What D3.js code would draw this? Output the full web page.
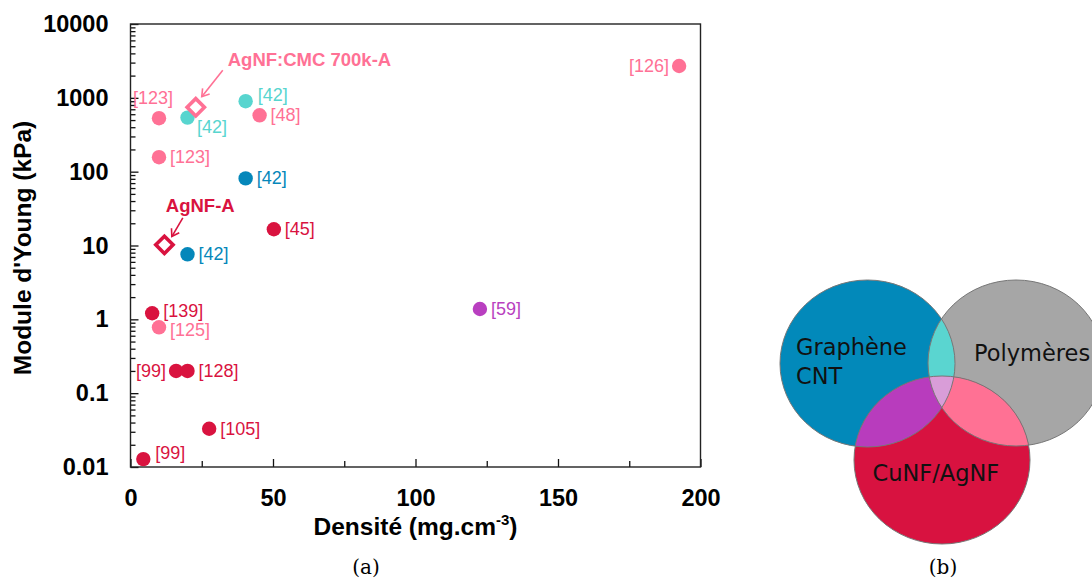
<!DOCTYPE html>
<html><head><meta charset="utf-8">
<script src="https://cdn.jsdelivr.net/npm/d3@7"></script>
<style>html,body{margin:0;padding:0;background:#fff;}svg{display:block;}</style>
</head><body>
<svg id="chart" width="1092" height="579"></svg>
<script>
// ---------- data ----------
const refs     = ["[126]","[123]","[42]","[42]","[48]","[123]","[42]","[45]","[42]","[59]","[139]","[125]","[99]","[128]","[105]","[99]"];
const density  = [192.5, 10, 20, 40.4, 45.3, 10, 40.4, 50.3, 20, 122.6, 7.6, 10, 16, 20, 27.6, 4.5];
const modulus  = [2700, 530, 540, 900, 580, 157, 81, 16.6, 7.6, 1.38, 1.21, 0.78, 0.2, 0.2, 0.033, 0.0128];
const family   = ["pm","pm","gp","gp","pm","pm","g","m","g","gm","m","pm","m","m","m","m"];

const thisWorkNames   = ["AgNF:CMC 700k-A", "AgNF-A"];
const thisWorkDensity = [22.9, 11.9];
const thisWorkModulus = [745, 10.2];
const thisWorkFamily  = ["pm", "m"];

const xTicks = [0, 50, 100, 150, 200];
const xTickLabels = ["0", "50", "100", "150", "200"];
const xMinorTicks = [25, 75, 125, 175];
const yTicks = [0.01, 0.1, 1, 10, 100, 1000, 10000];
const yTickLabels = ["0.01", "0.1", "1", "10", "100", "1000", "10000"];

const vennSets = ["Graphène\nCNT", "Polymères", "CuNF/AgNF"];

// ---------- layout / style ----------
const labelPlace = ["l","ul","dr","ur","r","r","r","r","r","r","ru","rd","l","r","r","ur"];
const colors = {pm:"#FF7195", gp:"#58D5CF", g:"#0587BA", m:"#D9133F", gm:"#B93FC0"};
const FONT = "'Liberation Sans', Arial, sans-serif";

const svg = d3.select("#chart");
const x = d3.scaleLinear().domain([0, 200]).range([130.5, 700.5]);
const y = d3.scaleLog().domain([0.01, 10000]).range([467, 24]);

// minor ticks
const yMinor = y.ticks().filter(v => !yTicks.some(t => Math.abs(t - v) / t < 1e-9));

const axisG = svg.append("g");
// bottom axis
const bx = d3.axisBottom(x).tickValues(xTicks).tickFormat((d,i)=>xTickLabels[i])
  .tickSizeInner(-8).tickSizeOuter(0).tickPadding(22);
axisG.append("g").attr("transform","translate(0,467)").call(bx);
const bxm = d3.axisBottom(x).tickValues(xMinorTicks).tickFormat("").tickSizeInner(-6).tickSizeOuter(0);
axisG.append("g").attr("transform","translate(0,467)").call(bxm);
// left axis
const ly = d3.axisLeft(y).tickValues(yTicks).tickFormat((d,i)=>yTickLabels[i])
  .tickSizeInner(-8).tickSizeOuter(0).tickPadding(22);
axisG.append("g").attr("transform","translate(130.5,0)").call(ly);
const lym = d3.axisLeft(y).tickValues(yMinor).tickFormat("").tickSizeInner(-5).tickSizeOuter(0);
axisG.append("g").attr("transform","translate(130.5,0)").call(lym);

axisG.selectAll(".domain").remove();
axisG.selectAll(".tick line").attr("stroke","#111").attr("stroke-width",1.3);
axisG.selectAll(".tick text").attr("font-family",FONT).attr("font-weight","bold")
  .attr("font-size",23.5).attr("fill","#000");

// frame
svg.append("rect").attr("x",130.5).attr("y",24).attr("width",570).attr("height",443)
  .attr("fill","none").attr("stroke","#222").attr("stroke-width",1.4);

// axis titles
svg.append("text").attr("transform","translate(31,248) rotate(-90)")
  .attr("text-anchor","middle").attr("font-family",FONT).attr("font-weight","bold")
  .attr("font-size",24.5).text("Module d'Young (kPa)");
const xt = svg.append("text").attr("x",415.5).attr("y",535).attr("text-anchor","middle")
  .attr("font-family",FONT).attr("font-weight","bold").attr("font-size",24.5);
xt.append("tspan").text("Densité (mg.cm");
xt.append("tspan").attr("font-size",15).attr("dy",-10).text("-3");
xt.append("tspan").attr("dy",10).text(")");

// points
const pts = refs.map((r,i)=>({ref:r, d:density[i], e:modulus[i], f:family[i], p:labelPlace[i]}));
svg.append("g").selectAll("circle").data(pts).join("circle")
  .attr("cx",d=>x(d.d)).attr("cy",d=>y(d.e)).attr("r",7.2).attr("fill",d=>colors[d.f]);

const place = {
  r:  {dx: 11,  dy: 0,   a:"start"},
  ru: {dx: 11,  dy: -2,  a:"start"},
  rd: {dx: 11,  dy: 3,   a:"start"},
  l:  {dx: -10, dy: 0,   a:"end"},
  ul: {dx: -6,  dy: -20, a:"middle"},
  dr: {dx: 9.5, dy: 9,   a:"start"},
  ur: {dx: 12,  dy: -6,  a:"start"}
};

// this work diamonds
const tw = thisWorkNames.map((n,i)=>({n, d:thisWorkDensity[i], e:thisWorkModulus[i], f:thisWorkFamily[i]}));
svg.append("g").selectAll("path").data(tw).join("path")
  .attr("d", d3.symbol(d3.symbolSquare, 150)())
  .attr("transform", d=>`translate(${x(d.d)},${y(d.e)}) rotate(45)`)
  .attr("fill","#fff").attr("stroke",d=>colors[d.f]).attr("stroke-width",3.6);

// labels
svg.append("g").selectAll("text").data(pts).join("text")
  .attr("x",d=>x(d.d)+place[d.p].dx).attr("y",d=>y(d.e)+place[d.p].dy)
  .attr("dominant-baseline","central").attr("text-anchor",d=>place[d.p].a)
  .attr("font-family",FONT).attr("font-size",18).attr("fill",d=>colors[d.f])
  .text(d=>d.ref);

// annotations with arrows
const annot = [
  {tip:[6,-10.6], tail:[27,-37], txt:[32,-41]},
  {tip:[7.4,-8.3], tail:[18.4,-27], txt:[1.4,-33]}
];
const defs = svg.append("defs");
tw.forEach((d,i)=>{
  const c = colors[d.f];
  defs.append("marker").attr("id","arr"+i).attr("viewBox","-10 -6 12 12")
    .attr("refX",0).attr("refY",0).attr("markerWidth",12).attr("markerHeight",12)
    .attr("markerUnits","userSpaceOnUse").attr("orient","auto")
    .append("path").attr("d","M-7,-4.5 L0,0 L-7,4.5").attr("fill","none")
    .attr("stroke",c).attr("stroke-width",1.6);
  const cx = x(d.d), cy = y(d.e), a = annot[i];
  svg.append("line").attr("x1",cx+a.tail[0]).attr("y1",cy+a.tail[1])
    .attr("x2",cx+a.tip[0]).attr("y2",cy+a.tip[1])
    .attr("stroke",c).attr("stroke-width",1.6).attr("marker-end",`url(#arr${i})`);
  svg.append("text").attr("x",cx+a.txt[0]).attr("y",cy+a.txt[1])
    .attr("font-family",FONT).attr("font-weight","bold").attr("font-size",18.5)
    .attr("fill",c).text(d.n);
});

// ---------- Venn diagram (b) ----------
const venn = svg.append("g");
const ell = [
  {cx:867.5, cy:363.5, rx:87.5, ry:83.5, fill:"#0289BA"},
  {cx:1016,  cy:363,   rx:88,   ry:83,   fill:"#A6A6A6"},
  {cx:942,   cy:460,   rx:88,   ry:84,   fill:"#D81240"}
];
ell.forEach((e,i)=>{
  defs.append("clipPath").attr("id","vc"+i).append("ellipse")
    .attr("cx",e.cx).attr("cy",e.cy).attr("rx",e.rx).attr("ry",e.ry);
});
const drawE = (g,e,fill) => g.append("ellipse").attr("cx",e.cx).attr("cy",e.cy)
  .attr("rx",e.rx).attr("ry",e.ry).attr("fill",fill);
ell.forEach(e=>drawE(venn,e,e.fill));
drawE(venn.append("g").attr("clip-path","url(#vc0)"), ell[1], "#5AD5D0");
drawE(venn.append("g").attr("clip-path","url(#vc0)"), ell[2], "#B83CBD");
drawE(venn.append("g").attr("clip-path","url(#vc1)"), ell[2], "#FF7194");
drawE(venn.append("g").attr("clip-path","url(#vc0)").append("g").attr("clip-path","url(#vc1)"), ell[2], "#D99DD8");
ell.forEach(e=>{
  venn.append("ellipse").attr("cx",e.cx).attr("cy",e.cy).attr("rx",e.rx).attr("ry",e.ry)
    .attr("fill","none").attr("stroke","#777").attr("stroke-width",1);
});
const VF = "'DejaVu Sans', Verdana, sans-serif";
const vt = [
  {x:796, y:355, lines:vennSets[0].split("\n")},
  {x:974, y:361, lines:vennSets[1].split("\n")},
  {x:872.5, y:481, lines:vennSets[2].split("\n")}
];
vt.forEach(t=>{
  const te = venn.append("text").attr("x",t.x).attr("y",t.y)
    .attr("font-family",VF).attr("font-size",22.5).attr("fill","#111");
  t.lines.forEach((l,k)=>te.append("tspan").attr("x",t.x).attr("dy",k?29:0).text(l));
});

// captions
const CF = "'DejaVu Serif', 'Liberation Serif', serif";
svg.append("text").attr("x",366).attr("y",574).attr("text-anchor","middle")
  .attr("font-family",CF).attr("font-size",20).text("(a)");
svg.append("text").attr("x",943).attr("y",574).attr("text-anchor","middle")
  .attr("font-family",CF).attr("font-size",20).text("(b)");
</script>
</body></html>
